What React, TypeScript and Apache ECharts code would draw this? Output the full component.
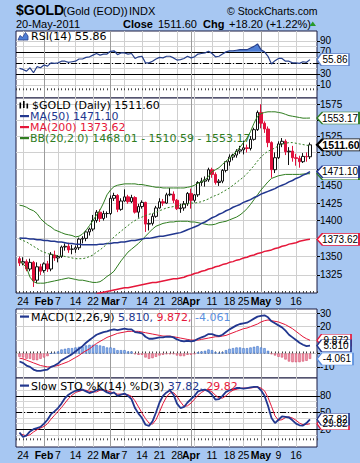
import React, { useEffect, useRef } from 'react';
import * as echarts from 'echarts';

// ---------- data ----------
const dates = ['Jan 21','Jan 24','Jan 25','Jan 26','Jan 27','Jan 28','Jan 31',
  'Feb 1','Feb 2','Feb 3','Feb 4','Feb 7','Feb 8','Feb 9','Feb 10','Feb 11','Feb 14','Feb 15','Feb 16','Feb 17','Feb 18','Feb 22','Feb 23','Feb 24','Feb 25','Feb 28',
  'Mar 1','Mar 2','Mar 3','Mar 4','Mar 7','Mar 8','Mar 9','Mar 10','Mar 11','Mar 14','Mar 15','Mar 16','Mar 17','Mar 18','Mar 21','Mar 22','Mar 23','Mar 24','Mar 25','Mar 28','Mar 29','Mar 30','Mar 31',
  'Apr 1','Apr 4','Apr 5','Apr 6','Apr 7','Apr 8','Apr 11','Apr 12','Apr 13','Apr 14','Apr 15','Apr 18','Apr 19','Apr 20','Apr 21','Apr 25','Apr 26','Apr 27','Apr 28','Apr 29',
  'May 2','May 3','May 4','May 5','May 6','May 9','May 10','May 11','May 12','May 13','May 16','May 17','May 18','May 19','May 20'];

const openP = [1347,1341,1343,1333,1342,1318,1336,1331,1340,1333,1352,1348,1350,1363,1364,1360,1360,1362,1374,1375,1384,
  1388,1400,1412,1403,1410,1410,1432,1436,1416,1428,1434,1427,1433,1412,1420,1426,1395,1396,1406,1418,
  1427,1425,1437,1438,1429,1417,1418,1424,1439,1429,1437,1455,1457,1459,1474,1467,1455,1457,1473,1486,
  1493,1496,1502,1504,1507,1506,1520,1535,1562,1545,1536,1515,1474,1492,1513,1517,1501,1502,1492,1491,
  1486,1494,1493.4];
const highP = [1350,1349,1346,1347,1344,1342,1340,1342,1344,1356,1358,1352,1365,1368,1369,1366,1365,1376,1378,1386,1390,
  1408,1415,1416,1414,1413,1436,1440,1438,1432,1445,1437,1437,1435,1424,1429,1427,1402,1410,1421,1432,
  1431,1440,1447,1442,1431,1424,1428,1441,1446,1438,1457,1462,1464,1477,1477,1470,1460,1475,1487,1497,
  1498,1505,1510,1518,1512,1525,1538,1565,1575,1548,1540,1517,1500,1517,1522,1520,1508,1510,1498,1495,
  1499,1500,1515];
const lowP = [1337,1338,1330,1330,1309,1314,1325,1328,1329,1330,1344,1342,1348,1358,1355,1353,1355,1359,1368,1371,1379,
  1385,1397,1398,1400,1404,1408,1428,1412,1414,1427,1424,1425,1410,1404,1417,1384,1386,1393,1404,1417,
  1421,1424,1435,1425,1415,1411,1414,1421,1417,1426,1434,1450,1449,1456,1462,1452,1450,1454,1470,1480,
  1488,1492,1498,1497,1500,1503,1518,1533,1537,1530,1508,1462,1469,1490,1508,1496,1481,1486,1480,1477,
  1484,1486,1490];
const closeP = [1341,1343,1333,1342,1317,1336,1330,1340,1333,1353,1348,1350,1363,1364,1359,1360,1362,1374,1375,1384,1388,
  1400,1412,1403,1410,1410,1432,1436,1416,1428,1434,1427,1433,1412,1420,1426,1395,1396,1406,1418,1427,
  1425,1437,1438,1429,1417,1418,1424,1439,1429,1437,1455,1457,1459,1474,1467,1455,1457,1473,1486,1493,
  1496,1502,1504,1507,1506,1520,1535,1562,1545,1536,1515,1474,1492,1513,1517,1501,1502,1492,1491,1486,
  1494,1493.4,1511.6];

const ma50 = [1375.5,1375,1375,1374,1374,1373,1373,1372,1372,1371,1371,1370,1370,1369,1368,1368,1367,1367,1366,1366,1366,
  1366,1366,1367,1367,1368,1368,1369,1369,1370,1370,1371,1372,1372,1373,1374,1375,1375,1376,1377,1378,
  1378,1379,1380,1381,1382,1383,1385,1387,1389,1391,1393,1396,1398,1401,1404,1406,1409,1411,1414,1416,
  1419,1421,1423,1426,1428,1430,1433,1435,1438,1440,1442,1444,1446,1449,1451,1453,1456,1458,1461,1463,
  1466,1468,1471.1];
const ma200 = ['-','-','-','-','-','-','-','-','-','-','-','-','-','-','-','-','-','-','-','-','-','-',
  1300,1301,1302,1303,1304,1305,1306,1307,1308,1308,1309,1310,1311,1312,1313,1314,1315,1315,1316,1317,
  1318,1319,1320,1320,1321,1322,1324,1325,1327,1328,1330,1331,1333,1334,1336,1337,1339,1340,1342,1343,
  1345,1346,1348,1349,1351,1352,1354,1355,1357,1358,1359,1361,1362,1364,1365,1367,1368,1369,1371,1372,
  1373,1373.62];
const bbUpper = [1422,1421,1419,1416,1414,1410,1403,1398,1394,1391,1387,1385,1383,1381,1380,1379,1377,1378,1381,1386,1393,
  1400,1408,1415,1425,1437,1444,1449,1451,1452,1453,1453,1453,1453,1452,1452,1451,1450,1449,1448,1448,
  1447,1447,1447,1447,1447,1447,1447,1448,1449,1451,1454,1456,1459,1464,1471,1474,1477,1482,1487,1491,
  1496,1502,1508,1515,1522,1532,1545,1556,1560,1562,1563,1563,1563,1562,1561,1559,1557,1556,1555,1554,
  1553,1553,1553.17];
const bbMid = [1374,1372,1370,1367,1364,1361,1358,1356,1354,1353,1352,1351,1351,1350,1349,1348,1347,1347,1347,1348,1350,
  1352,1356,1359,1363,1367,1372,1377,1381,1385,1389,1393,1397,1400,1403,1405,1407,1409,1410,1412,1414,
  1416,1418,1419,1420,1421,1422,1423,1424,1425,1425,1426,1427,1429,1431,1434,1436,1438,1441,1444,1447,
  1451,1455,1459,1463,1468,1474,1480,1487,1493,1498,1502,1504,1507,1510,1513,1514,1515,1515,1514,1513,
  1512,1511,1510.59];
const bbLower = [1344,1340,1335,1322,1316,1314,1314,1314,1315,1316,1317,1318,1319,1320,1321,1320,1319,1318,1318,1317,1316,
  1315,1315,1316,1319,1323,1326,1330,1337,1344,1350,1356,1360,1364,1368,1373,1378,1383,1388,1392,1394,
  1396,1397,1398,1398,1399,1399,1399,1399,1398,1398,1397,1396,1395,1394,1394,1395,1397,1398,1399,1401,
  1403,1405,1408,1412,1417,1423,1430,1437,1444,1450,1456,1461,1463,1465,1466,1467,1467,1467,1467,1467,
  1467.5,1468,1468.01];

const rsi = [40,38,35,41,32,43,41,46,44,50,49,50,53,53,51,52,53,57,57,60,61,
  64,67,64,66,66,71,72,65,68,68,66,67,58,61,62,50,50,53,57,60,
  59,62,62,59,55,56,58,62,59,61,66,67,68,71,67,61,62,66,70,72,
  72,73,74,74,74,77,80,84.5,74,70,62,48,54,58,58,53,53,50,50,49,
  52,51,55.86];
const macd = [-6,-7,-9,-10,-12,-13,-13,-12.5,-12,-10,-9,-7.5,-5,-3.5,-2,-0.5,1.5,3.5,5.5,8,10,
  12,14,15,16,16.5,17.5,18,17.5,18,18.5,18,18,16,15.5,15,12.5,11,11,11.5,12,
  12,12.5,12.5,12,10.5,9.5,9,9.5,9,9.5,11,12,13,14.5,14.5,13.5,13,14,16,18,
  19.5,21,22,22.5,23,24.5,26,27.5,28,28.5,27,24,22.5,21,19.5,17,14,12,10,8,
  6.5,5.5,5.81];
const macdSignal = [-3.5,-4,-5,-6,-7,-8,-9,-9.5,-10,-10,-9.5,-9,-8,-7,-6,-4.5,-3,-1.5,0.5,2,3.5,
  5.5,7.5,9,10.5,12,13,14,15,15.5,16,16.5,16.5,16.5,16.5,16,15.5,15,14.5,14,13.5,
  13,13,13,12.5,12,11.5,11,10.5,10,10,10,10.5,11,11.5,12,12.5,12.5,13,13.5,14.5,
  15.5,16.5,17.5,18.5,19,20,21,22,23.5,24.5,25,24.5,24,23.5,22.5,21.5,20,18.5,16.5,14.5,
  12.5,11,9.872];
const stoK = [14,6,9,16,20,22,24,30,37,47,52,58,66,76,82,86,89,90,91,88,85,
  87,90,92,90,86,84,86,80,82,84,80,74,58,48,40,28,26,34,50,68,
  80,86,90,82,66,58,60,68,74,80,88,90,91,88,82,73,74,80,87,90,
  92,94,94,93,94,95,96,96,90,80,62,40,31,37,43,42,41,36,30,27,
  26.5,31,37.82];
const stoD = [12,10,8,10,15,19,22,25,30,38,45,52,59,67,75,81,86,88,90,90,88,
  87,87,90,91,89,87,85,83,83,82,82,79,71,60,49,39,31,29,37,51,
  66,78,85,86,79,69,61,62,67,74,81,86,90,90,87,81,76,76,80,86,
  90,92,93,94,94,94,95,96,94,89,77,61,44,36,37,41,42,40,36,31,
  28,28.5,29.82];

const xTickDates = ['Jan 24','Feb 1','Feb 7','Feb 14','Feb 22','Mar 1','Mar 7','Mar 14','Mar 21','Mar 28','Apr 1','Apr 11','Apr 18','Apr 25','May 2','May 9','May 16'];
const xTickLabels = ['24','Feb','7','14','22','Mar','7','14','21','28','Apr','11','18','25','May','9','16'];
const monthDates = ['Feb 1','Mar 1','Apr 1','May 2'];
const extraGridDates = ['Apr 4'];

// gridline levels and the labels that stay visible beside the value tags
const priceGrid = [1325,1350,1375,1400,1425,1450,1475,1500,1525,1550,1575];
const priceLabels = [1325,1350,1400,1425,1450,1500,1525,1575];
const rsiGrid = [10,30,50,70,90];
const rsiLabels = [10,30,70,90];
const rsiMinor = [20,40,60,80];
const macdGrid = [-10,0,10,20,30];
const macdLabels = [-10,20,30];
const stoGrid = [20,50,80];
const stoLabels = [20,50,80];
const stoMinor = [10,30,40,60,70,90];

const readClose = '1511.60';
const readMA50 = '1471.10';
const readMA200 = '1373.62';
const readBB = ['1468.01','1510.59','1553.17'];
const readRSI = '55.86';
const readMACD = ['5.810','9.872','-4.061'];
const readSTO = ['37.82','29.82'];

// ---------- styling ----------
const BG = '#a7c7f2';
const NAVY = '#22378f';
const RED = '#e5173a';
const GREEN = '#2f7d1f';
const LTBLUE = '#5b8fde';
const FONT_UI = '"DejaVu Sans", Verdana, sans-serif';
const FONT_AX = '"Liberation Sans", Arial, sans-serif';

const cats = ['p0', ...dates, 'p1', 'p2'];
const padL = (a: any[]) => ['-', ...a, '-', '-'];
const lblMap = new Map(xTickDates.map((d, i) => [d, xTickLabels[i]]));
const gridSet = new Set([...xTickDates, ...extraGridDates]);
const monthSet = new Set(monthDates);

const GRID_L = 16, GRID_R = 43;

function tag(value: number, text: string, border: string, w = 42, bold = false, showText = true) {
  return {
    silent: true,
    symbol: 'path://M0,6L6,0L46,0L46,12L6,12Z',
    symbolSize: [w, 12],
    symbolOffset: [w / 2, 0],
    symbolKeepAspect: false,
    itemStyle: { color: '#fff', borderColor: border, borderWidth: bold ? 1.6 : 1 },
    label: {
      show: showText, position: 'inside', formatter: text, color: '#000',
      fontSize: bold ? 10.5 : 10, fontWeight: bold ? 'bold' : 'normal', fontFamily: FONT_AX, offset: [2, 0],
    },
    data: [{ coord: ['p2', value] }],
    animation: false,
  };
}

function refLines(items: any[]) {
  return {
    silent: true, z: 1, symbol: ['none', 'none'], label: { show: false },
    emphasis: { disabled: true },
    lineStyle: { color: '#999', width: 1, type: 'solid' },
    data: items, animation: false,
  };
}
const monthLines = monthDates.map(d => ({ xAxis: d, lineStyle: { color: '#9c9c9c', width: 1, type: 'solid' } }));
const blackH = (v: number) => ({ yAxis: v, lineStyle: { color: '#000', width: 1, type: 'solid' } });
const dashH = (v: number) => ({ yAxis: v, lineStyle: { color: '#000', width: 1, type: [6, 2, 1, 2] } });
const lightH = (v: number) => ({ yAxis: v, lineStyle: { color: '#d6d6d6', width: 1, type: 'solid' } });

function xAxis(gi: number, showLabel: boolean) {
  return {
    type: 'category', gridIndex: gi, data: cats, boundaryGap: false,
    axisLine: { show: false },
    axisTick: { show: true, inside: true, length: 2, interval: 0, lineStyle: { color: '#444' } },
    axisLabel: {
      show: showLabel, margin: 2, color: '#000', fontSize: 10.5, fontFamily: FONT_AX,
      interval: (_i: number, v: string) => lblMap.has(v),
      formatter: (v: string) => {
        const t = lblMap.get(v) || '';
        return monthSet.has(v) ? '{b|' + t + '}' : t;
      },
      rich: { b: { fontWeight: 'bold', fontSize: 10.5, fontFamily: FONT_AX, color: '#000' } },
    },
    splitLine: { show: true, interval: (_i: number, v: string) => gridSet.has(v), lineStyle: { color: '#cfcfcf', width: 1 } },
  };
}

function yAxis(gi: number, min: number, max: number, grid: number[], labels: number[], isLog = false) {
  return {
    type: isLog ? 'log' : 'value', ...(isLog ? { logBase: 10 } : {}),
    gridIndex: gi, min, max, position: 'right',
    axisLine: { show: false },
    axisTick: { show: true, length: 3, customValues: grid, lineStyle: { color: '#000' } },
    axisLabel: { customValues: labels, margin: 3, color: '#000', fontSize: 10, fontFamily: FONT_AX, formatter: (v: number) => String(v) },
    splitLine: { show: true, lineStyle: { color: '#d0d0d0', width: 1 } },
  };
}

function txt(x: number, y: number, text: string, opts: any = {}) {
  return {
    type: 'text', x, y, z: 100, silent: true,
    style: {
      text, fill: opts.fill || '#000', fontSize: opts.size || 11, fontWeight: opts.weight || 'normal',
      fontFamily: opts.family || FONT_UI, verticalAlign: 'middle', textVerticalAlign: 'middle', align: 'left',
      rich: opts.rich,
    },
  };
}
function dash(x: number, y: number, color: string) {
  return { type: 'rect', z: 100, silent: true, shape: { x, y: y - 1, width: 9, height: 2.2 }, style: { fill: color } };
}

function buildOption() {
  const n = closeP.length;
  const candleData = closeP.map((c, i) => {
    const rising = i > 0 ? c >= closeP[i - 1] : false;
    const col = rising ? '#111' : '#e0103c';
    const fill = c >= openP[i] ? '#fff' : col;
    return { value: [openP[i], c, lowP[i], highP[i]], itemStyle: { color: fill, color0: fill, borderColor: col, borderColor0: col, borderWidth: 1 } };
  });
  const emptyC = ['-', '-', '-', '-'];
  const hist = macd.map((m, i) => m - macdSignal[i]);
  const histData = hist.map(v => ({
    value: v,
    itemStyle: v >= 0 ? { color: '#8db6ef', borderColor: '#3f6fc4', borderWidth: 0.6 } : { color: '#f39bac', borderColor: '#d14a6a', borderWidth: 0.6 },
  }));
  const rsiBase = rsi.map(() => 70);
  const rsiOver = rsi.map(v => (v > 70 ? v - 70 : 0));

  const line = (xi: number, data: any[], color: string, width: number, extra: any = {}) => ({
    type: 'line', xAxisIndex: xi, yAxisIndex: xi, data: padL(data), symbol: 'none', showSymbol: false,
    lineStyle: { color, width }, itemStyle: { color }, silent: true, ...extra,
  });

  return {
    animation: false,
    backgroundColor: BG,
    grid: [
      { left: GRID_L, right: GRID_R, top: 31, height: 67 },
      { left: GRID_L, right: GRID_R, top: 98, height: 195 },
      { left: GRID_L, right: GRID_R, top: 309, height: 69 },
      { left: GRID_L, right: GRID_R, top: 378, height: 69 },
    ].map(g => ({ ...g, show: true, backgroundColor: '#fff', borderColor: '#1b1b40', borderWidth: 1, containLabel: false })),
    xAxis: [xAxis(0, false), xAxis(1, true), xAxis(2, false), xAxis(3, true)],
    yAxis: [
      yAxis(0, -14, 108, rsiGrid, rsiLabels),
      yAxis(1, 1301, 1585, priceGrid, priceLabels, true),
      yAxis(2, -18.3, 33.2, macdGrid, macdLabels),
      yAxis(3, -12, 112, stoGrid, stoLabels),
    ],
    series: [
      // RSI
      line(0, rsiBase, 'transparent', 0, { stack: 'rsiFill', lineStyle: { width: 0, opacity: 0 } }),
      line(0, rsiOver, 'transparent', 0, { stack: 'rsiFill', lineStyle: { width: 0, opacity: 0 }, areaStyle: { color: '#4f7fd6', opacity: 1 } }),
      line(0, rsi, '#27408b', 1.2, {
        markLine: refLines([...rsiMinor.map(lightH), blackH(70), blackH(30), dashH(50), ...monthLines]),
        markPoint: tag(rsi[n - 1], readRSI, '#5a7fc8', 32),
      }),
      // Price
      {
        type: 'candlestick', xAxisIndex: 1, yAxisIndex: 1, barWidth: 3, silent: true,
        data: [emptyC, ...candleData, emptyC, emptyC],
        markPoint: tag(closeP[n - 1], readClose, '#000', 44, true),
      },
      line(1, ma200, RED, 1.5, { markPoint: tag(ma200[n - 1] as number, readMA200, RED, 42) }),
      line(1, bbLower, GREEN, 1, { markPoint: tag(bbLower[n - 1], readBB[0], GREEN, 42, false, false) }),
      line(1, ma50, NAVY, 1.5, { markPoint: tag(ma50[n - 1], readMA50, NAVY, 42), markLine: refLines(monthLines) }),
      line(1, bbMid, GREEN, 1, { lineStyle: { color: GREEN, width: 1, type: [2, 2] } }),
      line(1, bbUpper, GREEN, 1, { markPoint: tag(bbUpper[n - 1], readBB[2], GREEN, 42) }),
      // MACD
      {
        type: 'bar', xAxisIndex: 2, yAxisIndex: 2, barWidth: 2.4, silent: true,
        data: padL(histData),
        markLine: refLines(monthLines),
        markPoint: tag(hist[n - 1], readMACD[2], LTBLUE, 36),
      },
      line(2, macdSignal, RED, 1, { markPoint: tag(macdSignal[n - 1], readMACD[1], RED, 34) }),
      line(2, macd, NAVY, 1.8, { markPoint: tag(macd[n - 1], readMACD[0], NAVY, 34) }),
      // STO
      line(3, stoD, RED, 1, { markPoint: tag(stoD[n - 1], readSTO[1], RED, 32) }),
      line(3, stoK, NAVY, 1.8, {
        markLine: refLines([...stoMinor.map(lightH), blackH(80), blackH(20), dashH(50), ...monthLines]),
        markPoint: tag(stoK[n - 1], readSTO[0], NAVY, 32),
      }),
    ],
    graphic: [
      // header
      txt(16, 10, '$GOLD', { family: FONT_AX, size: 14, weight: 'bold' }),
      txt(63, 11, '(Gold (EOD))', { family: FONT_AX, size: 11 }),
      txt(129, 11, 'INDX', { family: FONT_AX, size: 11 }),
      txt(227, 11, '© StockCharts.com', { family: FONT_AX, size: 10.5 }),
      txt(16, 24, '20-May-2011', { family: FONT_AX, size: 11 }),
      txt(123, 24, 'Close', { family: FONT_AX, size: 11, weight: 'bold' }),
      txt(158, 24, readClose, { family: FONT_AX, size: 11 }),
      txt(203, 24, 'Chg', { family: FONT_AX, size: 11, weight: 'bold' }),
      txt(229, 24, '+18.20 (+1.22%)', { family: FONT_AX, size: 11 }),
      { type: 'polygon', z: 100, silent: true, shape: { points: [[309.5, 26], [316, 26], [312.75, 21.5]] }, style: { fill: '#279a2a' } },
      // RSI legend
      { type: 'polygon', z: 100, silent: true, shape: { points: [[18, 40], [20, 35.5], [22.5, 37.5], [25.5, 32.5], [28, 36], [28, 40]] }, style: { fill: '#4f7fd6', stroke: '#27408b', lineWidth: 0.8 } },
      txt(31, 36.5, 'RSI(14) ' + readRSI),
      // price legend
      { type: 'rect', z: 100, silent: true, shape: { x: 19.5, y: 102.5, width: 1.6, height: 6 }, style: { fill: '#000' } },
      { type: 'rect', z: 100, silent: true, shape: { x: 23, y: 101, width: 1.6, height: 7 }, style: { fill: '#000' } },
      { type: 'rect', z: 100, silent: true, shape: { x: 26.5, y: 103.5, width: 1.6, height: 5 }, style: { fill: '#000' } },
      txt(32, 105.5, '$GOLD (Daily) ' + readClose),
      dash(20, 116, NAVY), txt(30, 116.5, 'MA(50) ' + readMA50, { fill: NAVY }),
      dash(20, 127, RED), txt(30, 127.5, 'MA(200) ' + readMA200, { fill: RED }),
      dash(20, 138, GREEN), txt(30, 138.5, 'BB(20,2.0) ' + readBB.join(' - '), { fill: GREEN }),
      // MACD legend
      dash(20, 316.5, NAVY),
      txt(31, 317, '{k|MACD(12,26,9)} {n|' + readMACD[0] + ',} {r|' + readMACD[1] + ',} {l|' + readMACD[2] + '}', {
        rich: {
          k: { fill: '#000', fontSize: 11, fontFamily: FONT_UI },
          n: { fill: NAVY, fontSize: 11, fontFamily: FONT_UI },
          r: { fill: RED, fontSize: 11, fontFamily: FONT_UI },
          l: { fill: LTBLUE, fontSize: 11, fontFamily: FONT_UI },
        },
      }),
      // STO legend
      dash(20, 385.5, NAVY),
      txt(31, 386, '{k|Slow STO %K(14) %D(3)} {n|' + readSTO[0] + ',} {r|' + readSTO[1] + '}', {
        rich: {
          k: { fill: '#000', fontSize: 11, fontFamily: FONT_UI },
          n: { fill: NAVY, fontSize: 11, fontFamily: FONT_UI },
          r: { fill: RED, fontSize: 11, fontFamily: FONT_UI },
        },
      }),
    ],
  };
}

export default function App() {
  const ref = useRef<HTMLDivElement>(null);
  useEffect(() => {
    document.body.style.margin = '0';
    const chart = echarts.init(ref.current as HTMLDivElement, undefined, { renderer: 'svg' });
    chart.setOption(buildOption() as any);
    return () => chart.dispose();
  }, []);
  return <div ref={ref} style={{ width: 360, height: 463, position: 'absolute', left: 0, top: 0 }} />;
}
